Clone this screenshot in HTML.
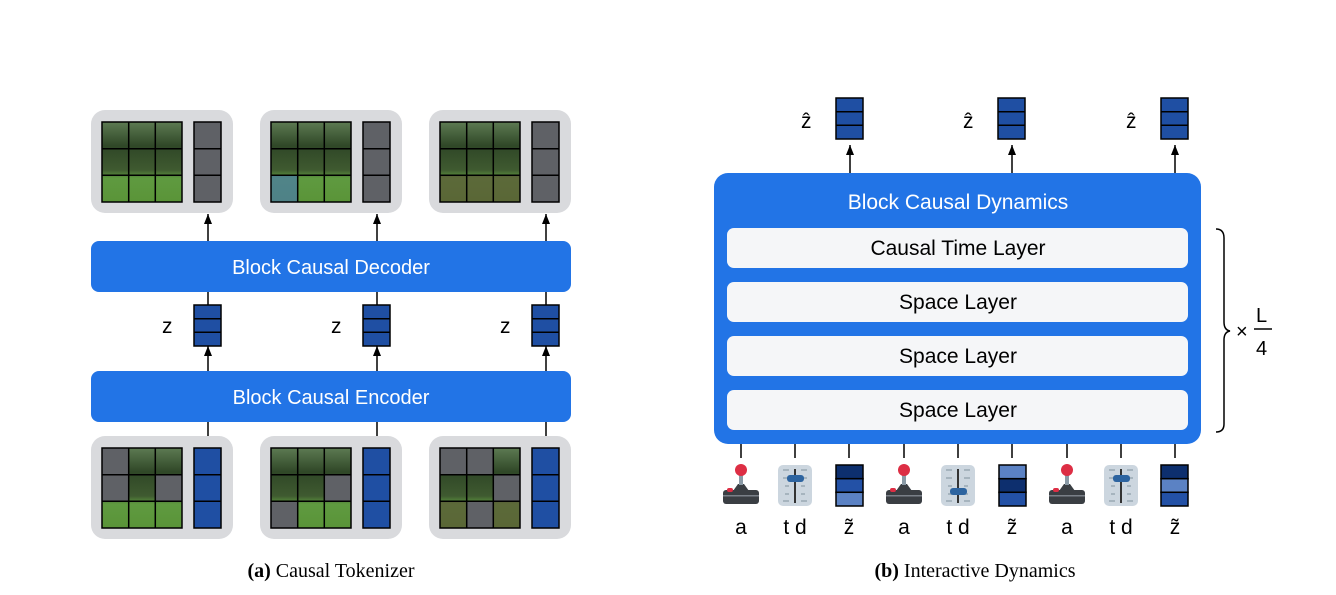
<!DOCTYPE html>
<html><head><meta charset="utf-8"><style>
html,body{margin:0;padding:0;background:#fff;}
svg{display:block;}
.s{font-family:"Liberation Sans",sans-serif;}
.c{font-family:"Liberation Serif",serif;font-size:20px;}
</style></head><body>
<svg width="1336" height="595" viewBox="0 0 1336 595" xmlns="http://www.w3.org/2000/svg">
<defs>
<linearGradient id="mc" x1="0" y1="0" x2="0" y2="1">
<stop offset="0" stop-color="#5d7a52"/><stop offset="0.3" stop-color="#2f4727"/><stop offset="0.6" stop-color="#3f5a30"/><stop offset="0.7" stop-color="#5f9a40"/><stop offset="1" stop-color="#5a9438"/>
</linearGradient>
<marker id="ar" markerWidth="10" markerHeight="8" refX="10" refY="4" orient="auto" markerUnits="userSpaceOnUse" viewBox="0 0 10 8"><path d="M0,0 L10,4 L0,8 Z" fill="#000"/></marker>
<g id="grid"><path d="M26.7,0V80M53.3,0V80M0,26.7H80M0,53.3H80" stroke="#000" stroke-width="1.5"/><rect x="0" y="0" width="80" height="80" fill="none" stroke="#000" stroke-width="1.5"/></g>
<g id="tokG"><rect width="27" height="80" fill="#5f6166"/><path d="M0,26.7H27M0,53.3H27" stroke="#000" stroke-width="1.5"/><rect width="27" height="80" fill="none" stroke="#000" stroke-width="1.5"/></g>
<g id="tokB"><rect width="27" height="80" fill="#1f4fa3"/><path d="M0,26.7H27M0,53.3H27" stroke="#000" stroke-width="1.5"/><rect width="27" height="80" fill="none" stroke="#000" stroke-width="1.5"/></g>
<g id="tokS"><rect width="27" height="41" fill="#1f4fa3"/><path d="M0,13.7H27M0,27.3H27" stroke="#000" stroke-width="1.5"/><rect width="27" height="41" fill="none" stroke="#000" stroke-width="1.5"/></g>
<g id="joy"><rect x="-18" y="490" width="36" height="14" rx="3" fill="#3a3e43"/><rect x="-18" y="495" width="36" height="1.5" fill="#7a8088"/><rect x="-14" y="488" width="6" height="4" rx="2" fill="#dd2e44"/><path d="M-8,491 L-3,484 L3,484 L8,491Z" fill="#3a3e43"/><rect x="-2" y="474" width="4" height="11" fill="#8a9aa6"/><circle cx="0" cy="470" r="6" fill="#dd2e44"/></g>
<g id="sl"><rect x="-17" y="465" width="34" height="41" rx="5" fill="#ccd6df"/><path d="M-12,470h6M6,470h6M-12,478h6M6,478h6M-10,486h4M6,486h4M-10,494h4M6,494h4M-12,501h6M6,501h6" stroke="#9aa8b4" stroke-width="1.6"/><path d="M0,469V503" stroke="#333" stroke-width="2"/></g>
</defs>

<g id="frames">
<rect x="91" y="110" width="142" height="103" rx="14" fill="#d9dadd"/>
<rect x="102" y="122" width="80" height="80" fill="url(#mc)"/><use href="#grid" x="102" y="122"/><use href="#tokG" x="194" y="122"/>
<rect x="260" y="110" width="142" height="103" rx="14" fill="#d9dadd"/>
<rect x="271" y="122" width="80" height="80" fill="url(#mc)"/><rect x="271" y="175" width="26" height="27" fill="#4a7aa8" opacity="0.7"/><use href="#grid" x="271" y="122"/><use href="#tokG" x="363" y="122"/>
<rect x="429" y="110" width="142" height="103" rx="14" fill="#d9dadd"/>
<rect x="440" y="122" width="80" height="80" fill="url(#mc)"/><rect x="440" y="175" width="80" height="27" fill="#5a4a35" opacity="0.6"/><use href="#grid" x="440" y="122"/><use href="#tokG" x="532" y="122"/>
<rect x="91" y="436" width="142" height="103" rx="14" fill="#d9dadd"/>
<rect x="102" y="448" width="80" height="80" fill="url(#mc)"/>
<rect x="102" y="448" width="26.7" height="26.7" fill="#5f6166"/><rect x="102" y="474.7" width="26.7" height="26.7" fill="#5f6166"/><rect x="155.3" y="474.7" width="26.7" height="26.7" fill="#5f6166"/>
<use href="#grid" x="102" y="448"/><use href="#tokB" x="194" y="448"/>
<rect x="260" y="436" width="142" height="103" rx="14" fill="#d9dadd"/>
<rect x="271" y="448" width="80" height="80" fill="url(#mc)"/>
<rect x="324.3" y="474.7" width="26.7" height="26.7" fill="#5f6166"/><rect x="271" y="501.3" width="26.7" height="26.7" fill="#5f6166"/>
<use href="#grid" x="271" y="448"/><use href="#tokB" x="363" y="448"/>
<rect x="429" y="436" width="142" height="103" rx="14" fill="#d9dadd"/>
<rect x="440" y="448" width="80" height="80" fill="url(#mc)"/><rect x="440" y="501" width="80" height="27" fill="#5a4a35" opacity="0.6"/>
<rect x="440" y="448" width="26.7" height="26.7" fill="#5f6166"/><rect x="466.7" y="448" width="26.7" height="26.7" fill="#5f6166"/><rect x="493.3" y="474.7" width="26.7" height="26.7" fill="#5f6166"/><rect x="466.7" y="501.3" width="26.7" height="26.7" fill="#5f6166"/>
<use href="#grid" x="440" y="448"/><use href="#tokB" x="532" y="448"/>
</g>

<rect x="91" y="241" width="480" height="51" rx="8" fill="#2274e6"/>
<text x="331" y="274" text-anchor="middle" class="s" font-size="20" fill="#fff">Block Causal Decoder</text>
<rect x="91" y="371" width="480" height="51" rx="8" fill="#2274e6"/>
<text x="331" y="404" text-anchor="middle" class="s" font-size="20" fill="#fff">Block Causal Encoder</text>

<g stroke="#000" stroke-width="1.5">
<line x1="208" y1="241" x2="208" y2="214" marker-end="url(#ar)"/>
<line x1="377" y1="241" x2="377" y2="214" marker-end="url(#ar)"/>
<line x1="546" y1="241" x2="546" y2="214" marker-end="url(#ar)"/>
<line x1="208" y1="371" x2="208" y2="346" marker-end="url(#ar)"/>
<line x1="377" y1="371" x2="377" y2="346" marker-end="url(#ar)"/>
<line x1="546" y1="371" x2="546" y2="346" marker-end="url(#ar)"/>
<path d="M208,292V305M377,292V305M546,292V305M208,422V436M377,422V436M546,422V436"/>
</g>
<use href="#tokS" x="194" y="305"/><use href="#tokS" x="363" y="305"/><use href="#tokS" x="532" y="305"/>
<g class="s" font-size="21" fill="#000"><text x="162" y="333">z</text><text x="331" y="333">z</text><text x="500" y="333">z</text></g>

<text x="331" y="577" text-anchor="middle" class="c"><tspan font-weight="bold">(a)</tspan> Causal Tokenizer</text>

<rect x="714" y="173" width="487" height="271" rx="14" fill="#2274e6"/>
<text x="958" y="209" text-anchor="middle" class="s" font-size="21" fill="#fff">Block Causal Dynamics</text>
<g fill="#f5f6f8">
<rect x="727" y="228" width="461" height="40" rx="7"/><rect x="727" y="282" width="461" height="40" rx="7"/><rect x="727" y="336" width="461" height="40" rx="7"/><rect x="727" y="390" width="461" height="40" rx="7"/>
</g>
<g class="s" font-size="21" fill="#000" text-anchor="middle">
<text x="958" y="255">Causal Time Layer</text><text x="958" y="309">Space Layer</text><text x="958" y="363">Space Layer</text><text x="958" y="417">Space Layer</text>
</g>
<use href="#tokS" x="836" y="98"/><use href="#tokS" x="998" y="98"/><use href="#tokS" x="1161" y="98"/>
<g class="s" font-size="21" fill="#000"><text x="801" y="128">ẑ</text><text x="963" y="128">ẑ</text><text x="1126" y="128">ẑ</text></g>
<g stroke="#000" stroke-width="1.5">
<line x1="850" y1="173" x2="850" y2="145" marker-end="url(#ar)"/>
<line x1="1012" y1="173" x2="1012" y2="145" marker-end="url(#ar)"/>
<line x1="1175" y1="173" x2="1175" y2="145" marker-end="url(#ar)"/>
<path d="M741,444V458M795,444V458M849,444V458M904,444V458M958,444V458M1012,444V458M1067,444V458M1121,444V458M1175,444V458"/>
<path d="M1216,229 Q1224,229 1224,238 V322 Q1224,330 1230,331 Q1224,332 1224,340 V424 Q1224,432 1216,432" fill="none"/>
</g>
<g class="s" fill="#000"><text x="1236" y="338" font-size="20">×</text><text x="1256" y="322" font-size="20">L</text><line x1="1254" y1="329" x2="1272" y2="329" stroke="#000" stroke-width="1.5"/><text x="1256" y="355" font-size="20">4</text></g>

<use href="#joy" x="741"/><use href="#joy" x="904"/><use href="#joy" x="1067"/>
<use href="#sl" x="795"/><rect x="787" y="475" width="17" height="7" rx="3" fill="#2d64a0"/>
<use href="#sl" x="958"/><rect x="950" y="488" width="17" height="7" rx="3" fill="#2d64a0"/>
<use href="#sl" x="1121"/><rect x="1113" y="475" width="17" height="7" rx="3" fill="#2d64a0"/>
<g stroke="#000" stroke-width="1.5">
<rect x="836" y="465" width="27" height="13.7" fill="#0d2f6e"/><rect x="836" y="478.7" width="27" height="13.7" fill="#2351a6"/><rect x="836" y="492.3" width="27" height="13.7" fill="#5b82c4"/>
<rect x="999" y="465" width="27" height="13.7" fill="#5b82c4"/><rect x="999" y="478.7" width="27" height="13.7" fill="#0d2f6e"/><rect x="999" y="492.3" width="27" height="13.7" fill="#2351a6"/>
<rect x="1161" y="465" width="27" height="13.7" fill="#0d2f6e"/><rect x="1161" y="478.7" width="27" height="13.7" fill="#5b82c4"/><rect x="1161" y="492.3" width="27" height="13.7" fill="#2351a6"/>
</g>
<g class="s" font-size="21" fill="#000" text-anchor="middle">
<text x="741" y="534">a</text><text x="795" y="534">t d</text><text x="849" y="534">z̃</text>
<text x="904" y="534">a</text><text x="958" y="534">t d</text><text x="1012" y="534">z̃</text>
<text x="1067" y="534">a</text><text x="1121" y="534">t d</text><text x="1175" y="534">z̃</text>
</g>
<text x="975" y="577" text-anchor="middle" class="c"><tspan font-weight="bold">(b)</tspan> Interactive Dynamics</text>
</svg>
</body></html>
